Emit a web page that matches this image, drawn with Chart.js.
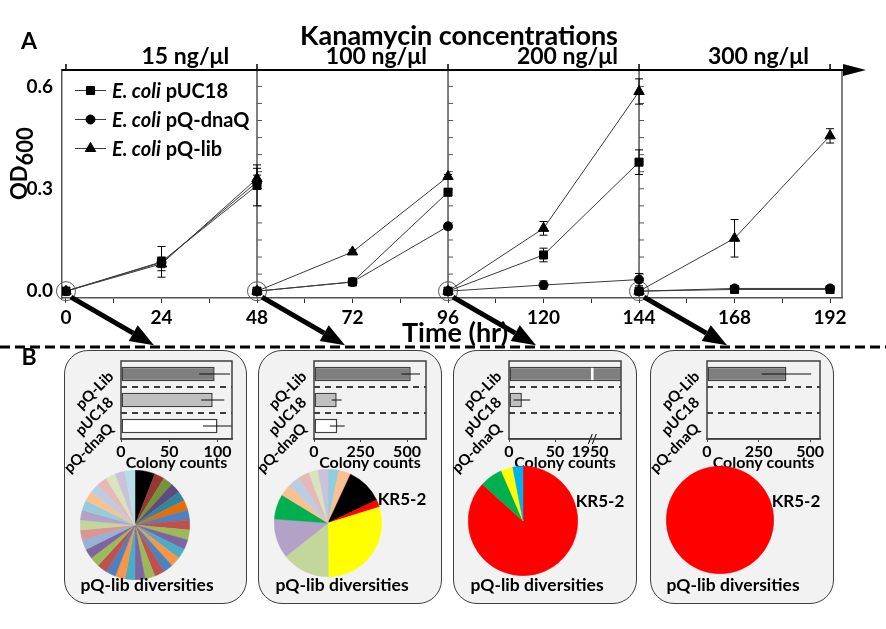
<!DOCTYPE html>
<html>
<head>
<meta charset="utf-8">
<script src="https://cdn.jsdelivr.net/npm/chart.js@4.4.0/dist/chart.umd.min.js"></script>
<style>
body { margin: 0; background: #fff; }
#wrap { position: relative; width: 886px; height: 629px; overflow: hidden; font-family: Lato, sans-serif; }
.panel { position: absolute; top: 350px; height: 254px; background: #f2f2f2; border: 1.5px solid #3f3f3f; border-radius: 24px; box-sizing: border-box; }
canvas { position: absolute; }
.lbl { position: absolute; font-weight: bold; color: #000; white-space: nowrap; line-height: 1; transform: translateX(-50%); }
</style>
</head>
<body>
<div id="wrap">
  <div class="panel" style="left:64px;width:183px"></div>
  <div class="panel" style="left:258px;width:184px"></div>
  <div class="panel" style="left:453px;width:184px"></div>
  <div class="panel" style="left:650px;width:184px"></div>
  <canvas id="growth" width="886" height="629" style="left:0;top:0"></canvas>
  <canvas id="bar0" width="183" height="125" style="left:64px;top:350px"></canvas>
  <canvas id="bar1" width="184" height="125" style="left:258px;top:350px"></canvas>
  <canvas id="bar2" width="184" height="125" style="left:453px;top:350px"></canvas>
  <canvas id="bar3" width="184" height="125" style="left:650px;top:350px"></canvas>
  <canvas id="pie0" width="110" height="110" style="left:80px;top:470px"></canvas>
  <canvas id="pie1" width="108" height="108" style="left:274px;top:469px"></canvas>
  <canvas id="pie2" width="110" height="110" style="left:468px;top:466px"></canvas>
  <canvas id="pie3" width="108" height="108" style="left:666px;top:466px"></canvas>
  <div class="lbl" style="left:402px;top:490px;font-size:17px">KR5-2</div>
  <div class="lbl" style="left:600px;top:492px;font-size:17px">KR5-2</div>
  <div class="lbl" style="left:796px;top:492px;font-size:17px">KR5-2</div>
  <div class="lbl" style="left:147px;top:576px;font-size:17.5px">pQ-lib diversities</div>
  <div class="lbl" style="left:342px;top:576px;font-size:17.5px">pQ-lib diversities</div>
  <div class="lbl" style="left:537px;top:576px;font-size:17.5px">pQ-lib diversities</div>
  <div class="lbl" style="left:733px;top:576px;font-size:17.5px">pQ-lib diversities</div>
</div>
<script>
// --- panel A : OD600 ---
const hours = [0, 24, 48, 48, 72, 96, 96, 120, 144, 144, 168, 192];
const odPUC18 = [0, 0.086, 0.31, 0, 0.027, 0.29, 0, 0.106, 0.378, 0, 0.005, 0.005];
const errPUC18 = [0, 0.045, 0.06, 0, 0.008, 0.01, 0, 0.02, 0.036, 0, 0, 0];
const odDnaQ = [0, 0.084, 0.32, 0, 0.027, 0.19, 0, 0.018, 0.034, 0, 0.008, 0.008];
const errDnaQ = [0, 0.015, 0.02, 0, 0.006, 0.008, 0, 0.012, 0.018, 0, 0.004, 0.004];
const odLib = [0, 0.08, 0.33, 0, 0.115, 0.336, 0, 0.184, 0.585, 0, 0.155, 0.455];
const errLib = [0, 0.02, 0.03, 0, 0.006, 0.006, 0, 0.02, 0.037, 0, 0.055, 0.021];
const startHours = [0, 48, 96, 144];
const concLabels = ['15 ng/μl', '100 ng/μl', '200 ng/μl', '300 ng/μl'];

// --- panel B : colony counts ---
const strains = ['pQ-Lib', 'pUC18', 'pQ-dnaQ'];
const colonies15 = [97, 95, 100];
const colonyErr15 = [16, 12, 15];
const colonies100 = [520, 122, 125];
const colonyErr100 = [50, 27, 40];
const colonies200 = [2000, 14, 0];
const colonyErr200 = [0, 9, 0];
const colonies300 = [385, 0, 0];
const colonyErr300 = [120, 0, 0];

// --- panel B : clone diversity (relative shares) ---
const diversity15 = [2, 1, 1, 1, 1, 1, 1, 1, 1, 1, 1, 1, 1, 1, 1, 1, 1, 1, 1, 1, 1, 1, 1, 1, 1, 1, 1, 1, 1, 1, 1, 1, 1];
const diversity100 = [3.3, 3.6, 11.1, 2.2, 29.7, 14.4, 11.9, 7.5, 3.6, 3.6, 3.3, 2.8, 3.0];
const diversity200 = [86.7, 6.8, 3.5, 3.0];
const diversity300 = [100];

const pieColors15 = ['#000000', '#953735', '#77933c', '#604a7b', '#31859c', '#e46c0a', '#4f81bd', '#c0504d', '#9bbb59',
  '#8064a2', '#4bacc6', '#f79646', '#4f81bd', '#c0504d', '#9bbb59', '#8064a2', '#4bacc6', '#f79646', '#4f81bd',
  '#c0504d', '#9bbb59', '#8064a2', '#95b3d7', '#d99694', '#c3d69b', '#b3a2c7', '#93cddd', '#fac090', '#b9cde5',
  '#e6b9b8', '#d7e4bd', '#ccc1da', '#b7dee8'];
const pieColors100 = ['#93cddd', '#fac090', '#000000', '#ff0000', '#ffff00', '#c3d69b', '#b3a2c7', '#00b050',
  '#fac090', '#b9cde5', '#e6b9b8', '#d7e4bd', '#ccc1da'];
const pieColors200 = ['#ff0000', '#00b050', '#ffff00', '#00b0f0'];
const pieColors300 = ['#ff0000'];

Chart.defaults.font.family = 'Lato, sans-serif';
Chart.defaults.color = '#000';

const boldFont = size => ({ family: 'Lato, sans-serif', size: size, weight: 'bold' });

function toPoints(vals, errs) {
  const pts = [];
  hours.forEach((h, i) => {
    if (i > 0 && h === hours[i - 1]) pts.push({ x: h, y: null });
    pts.push({ x: h, y: vals[i], e: errs[i] });
  });
  return pts;
}

const errorBars = {
  id: 'errorBars',
  afterDatasetsDraw(chart) {
    const ctx = chart.ctx;
    const y = chart.scales.y;
    chart.data.datasets.forEach((ds, i) => {
      if (!ds.withErrors) return;
      const meta = chart.getDatasetMeta(i);
      ds.data.forEach((p, j) => {
        if (p.y == null || !p.e) return;
        const px = meta.data[j].x;
        const top = y.getPixelForValue(p.y + p.e);
        const bot = y.getPixelForValue(p.y - p.e);
        ctx.save();
        ctx.strokeStyle = '#000';
        ctx.lineWidth = 1;
        ctx.beginPath();
        ctx.moveTo(px, top); ctx.lineTo(px, bot);
        ctx.moveTo(px - 4, top); ctx.lineTo(px + 4, top);
        ctx.moveTo(px - 4, bot); ctx.lineTo(px + 4, bot);
        ctx.stroke();
        ctx.restore();
      });
    });
  }
};

function drawArrow(ctx, x0, y0, x1, y1) {
  const ang = Math.atan2(y1 - y0, x1 - x0);
  const head = 24, half = 9;
  const bx = x1 - head * Math.cos(ang), by = y1 - head * Math.sin(ang);
  ctx.save();
  ctx.strokeStyle = '#000';
  ctx.fillStyle = '#000';
  ctx.lineWidth = 5;
  ctx.beginPath();
  ctx.moveTo(x0, y0);
  ctx.lineTo(bx, by);
  ctx.stroke();
  ctx.beginPath();
  ctx.moveTo(x1, y1);
  ctx.lineTo(bx + half * Math.sin(ang), by - half * Math.cos(ang));
  ctx.lineTo(bx - half * Math.sin(ang), by + half * Math.cos(ang));
  ctx.closePath();
  ctx.fill();
  ctx.restore();
}

// frame, separators and all the free text of the growth chart
const growthDecor = {
  id: 'growthDecor',
  beforeDatasetsDraw(chart) {
    const { ctx, chartArea: a, scales: { x, y } } = chart;
    ctx.save();
    ctx.strokeStyle = '#555';
    ctx.lineWidth = 1.5;
    [48, 96, 144].forEach(h => {
      const px = x.getPixelForValue(h);
      ctx.beginPath();
      ctx.moveTo(px, a.top); ctx.lineTo(px, a.bottom);
      ctx.stroke();
      ctx.lineWidth = 1;
      for (let v = 0; v <= 0.6001; v += 0.05) {
        const py = y.getPixelForValue(v);
        ctx.beginPath();
        ctx.moveTo(px, py); ctx.lineTo(px + 5, py);
        ctx.stroke();
      }
      ctx.lineWidth = 1.5;
    });
    ctx.beginPath();
    ctx.moveTo(a.right, a.top); ctx.lineTo(a.right, a.bottom);
    ctx.stroke();
    ctx.restore();
  },
  afterDraw(chart) {
    const { ctx, chartArea: a, scales: { x, y } } = chart;
    ctx.save();

    // top axis with arrow
    ctx.strokeStyle = '#000';
    ctx.fillStyle = '#000';
    ctx.lineWidth = 2;
    ctx.beginPath();
    ctx.moveTo(a.left, a.top); ctx.lineTo(848, a.top);
    ctx.stroke();
    ctx.beginPath();
    ctx.moveTo(866, a.top); ctx.lineTo(843, a.top - 6); ctx.lineTo(843, a.top + 6);
    ctx.closePath();
    ctx.fill();
    ctx.lineWidth = 1.5;
    [0, 48, 96, 144, 192].forEach(h => {
      const px = x.getPixelForValue(h);
      ctx.beginPath();
      ctx.moveTo(px, a.top); ctx.lineTo(px, a.top - 6);
      ctx.stroke();
    });

    // legend
    const rows = [90.5, 119.5, 148.5];
    chart.data.datasets.slice(0, 3).forEach((ds, i) => {
      const ly = rows[i];
      ctx.strokeStyle = ds.borderColor;
      ctx.lineWidth = 1;
      ctx.beginPath();
      ctx.moveTo(75, ly); ctx.lineTo(106, ly);
      ctx.stroke();
      ctx.fillStyle = '#000';
      ctx.strokeStyle = '#000';
      Chart.helpers.drawPoint(ctx, { pointStyle: ds.pointStyle, radius: ds.pointRadius, rotation: 0, borderWidth: 1 }, 90.5, ly);
      const words = ds.label.split(' ');
      const ital = words.slice(0, 2).join(' ');
      const rest = ' ' + words.slice(2).join(' ');
      ctx.textBaseline = 'middle';
      ctx.textAlign = 'left';
      ctx.font = 'italic bold 20px Lato';
      ctx.fillText(ital, 112, ly + 1);
      const w = ctx.measureText(ital).width;
      ctx.font = 'bold 20px Lato';
      ctx.fillText(rest, 112 + w, ly + 1);
    });

    // titles
    ctx.fillStyle = '#000';
    ctx.textAlign = 'center';
    ctx.textBaseline = 'alphabetic';
    ctx.font = 'bold 23px Lato';
    ctx.fillText('A', 29, 49);
    ctx.fillText('B', 29, 365);
    ctx.font = 'bold 27px Lato';
    ctx.fillText('Kanamycin concentrations', 459, 45);
    ctx.font = 'bold 23px Lato';
    startHours.forEach((h, i) => {
      ctx.fillText(concLabels[i], x.getPixelForValue(h + 30), 64);
    });
    ctx.font = 'bold 27px Lato';
    ctx.fillText('Time (hr)', 455, 342);

    // OD600
    ctx.save();
    ctx.translate(27, 200);
    ctx.rotate(-Math.PI / 2);
    ctx.textAlign = 'left';
    ctx.font = 'bold 22px Lato';
    ctx.fillText('OD', 0, 0);
    const odW = ctx.measureText('OD').width;
    ctx.fillText('600', odW, 6);
    ctx.restore();

    // arrows toward the panels below
    startHours.forEach(h => {
      const px = x.getPixelForValue(h);
      const py = y.getPixelForValue(0);
      drawArrow(ctx, px + 5, py + 6, px + 88, py + 54);
    });

    // dashed separator
    ctx.strokeStyle = '#000';
    ctx.lineWidth = 3;
    ctx.setLineDash([10, 5]);
    ctx.beginPath();
    ctx.moveTo(0, 347); ctx.lineTo(886, 347);
    ctx.stroke();
    ctx.restore();
  }
};

const seriesStyle = {
  borderColor: '#3a3a3a', borderWidth: 1, pointBackgroundColor: '#000', pointBorderColor: '#000',
  pointBorderWidth: 1, tension: 0, spanGaps: false, withErrors: true
};

new Chart(document.getElementById('growth'), {
  type: 'line',
  data: {
    datasets: [
      Object.assign({ label: 'E. coli pUC18', data: toPoints(odPUC18, errPUC18), pointStyle: 'rect', pointRadius: 5.7 }, seriesStyle),
      Object.assign({ label: 'E. coli pQ-dnaQ', data: toPoints(odDnaQ, errDnaQ), pointStyle: 'circle', pointRadius: 4.5 }, seriesStyle),
      Object.assign({ label: 'E. coli pQ-lib', data: toPoints(odLib, errLib), pointStyle: 'triangle', pointRadius: 6 }, seriesStyle),
      {
        label: 'start', data: startHours.map(h => ({ x: h, y: 0 })), showLine: false, clip: false,
        pointRadius: 9.5, pointBorderColor: '#555', pointBackgroundColor: 'rgba(0,0,0,0)', pointBorderWidth: 1
      }
    ]
  },
  options: {
    responsive: false,
    animation: false,
    layout: { padding: { top: 70, right: 44, left: 0, bottom: 0 } },
    plugins: { legend: { display: false }, tooltip: { enabled: false } },
    scales: {
      x: {
        type: 'linear', min: -1, max: 195,
        afterBuildTicks: s => { s.ticks = []; for (let h = 0; h <= 192; h += 12) s.ticks.push({ value: h }); },
        afterFit: s => { s.height = 629 - 298; },
        ticks: { font: boldFont(19), color: '#000', padding: 3, maxRotation: 0, callback: v => (v % 24 === 0 ? String(v) : '') },
        grid: { drawOnChartArea: false, drawTicks: true, tickLength: 5, color: '#333' },
        border: { color: '#555', width: 1.5 }
      },
      y: {
        type: 'linear', min: -0.02, max: 0.648,
        afterBuildTicks: s => { s.ticks = [0, 0.3, 0.6].map(v => ({ value: v })); },
        afterFit: s => { s.width = 62; },
        ticks: { font: boldFont(19), color: '#000', padding: 9, callback: v => v.toFixed(1) },
        grid: { drawOnChartArea: false, drawTicks: false },
        border: { color: '#555', width: 1.5 }
      }
    }
  },
  plugins: [growthDecor, errorBars]
});

// --- colony count bars ---
const barFills = ['#7f7f7f', '#bfbfbf', '#ffffff'];
const axisBreak = v => (v > 1000 ? 88 + (v - 1950) * 0.7 : v);

const barDecor = {
  id: 'barDecor',
  afterDatasetsDraw(chart) {
    const { ctx, chartArea: a, scales: { x, y } } = chart;
    const ds = chart.data.datasets[0];
    const meta = chart.getDatasetMeta(0);
    ctx.save();
    // dashed separators between strains
    ctx.strokeStyle = '#000';
    ctx.lineWidth = 1.5;
    ctx.setLineDash([6, 5]);
    for (let i = 1; i < strains.length; i++) {
      const py = (y.getPixelForValue(i - 1) + y.getPixelForValue(i)) / 2;
      ctx.beginPath();
      ctx.moveTo(a.left, py); ctx.lineTo(a.right, py);
      ctx.stroke();
    }
    ctx.setLineDash([]);
    // axis break
    if (ds.breakAt) {
      meta.data.forEach((el, j) => {
        if (ds.data[j] <= ds.breakAt) return;
        const bx = x.getPixelForValue(ds.breakAt);
        ctx.strokeStyle = '#fff';
        ctx.lineWidth = 2.5;
        ctx.beginPath();
        ctx.moveTo(bx, el.y - el.height / 2 + 1); ctx.lineTo(bx, el.y + el.height / 2 - 1);
        ctx.stroke();
      });
      const bx = x.getPixelForValue(ds.breakAt);
      ctx.strokeStyle = '#000';
      ctx.lineWidth = 1;
      [-2, 2].forEach(d => {
        ctx.beginPath();
        ctx.moveTo(bx + d - 2, a.bottom + 5); ctx.lineTo(bx + d + 2, a.bottom - 5);
        ctx.stroke();
      });
    }
    // error bars
    ctx.strokeStyle = '#111';
    ctx.lineWidth = 1;
    meta.data.forEach((el, j) => {
      const e = ds.errors[j];
      if (!e) return;
      const v = ds.data[j];
      const x0 = Math.max(a.left, x.getPixelForValue(v - e));
      const x1 = Math.min(a.right, x.getPixelForValue(v + e));
      ctx.beginPath();
      ctx.moveTo(x0, el.y); ctx.lineTo(x1, el.y);
      ctx.stroke();
    });
    // frame
    ctx.strokeStyle = '#404040';
    ctx.lineWidth = 1.5;
    ctx.strokeRect(a.left, a.top, a.right - a.left, a.bottom - a.top);
    ctx.restore();
  }
};

function drawColonyBars(canvasId, geom, values, errors, tickText, breakAt) {
  const canvas = document.getElementById(canvasId);
  const [pl, pt, pr, pb] = geom.plot;
  return new Chart(canvas, {
    type: 'bar',
    data: {
      labels: strains,
      datasets: [{
        data: values, errors: errors, breakAt: breakAt,
        backgroundColor: barFills, borderColor: '#404040', borderWidth: 1.5, borderSkipped: false,
        barPercentage: 0.55, categoryPercentage: 1
      }]
    },
    options: {
      indexAxis: 'y',
      responsive: false,
      animation: false,
      layout: { padding: { top: pt - 350, right: geom.left + canvas.width - pr, left: 0, bottom: 0 } },
      plugins: { legend: { display: false }, tooltip: { enabled: false } },
      scales: {
        x: {
          type: 'linear', min: 0, max: geom.max,
          afterBuildTicks: s => { s.ticks = geom.ticks.map(v => ({ value: v })); },
          afterFit: s => { s.height = 475 - pb; },
          ticks: { font: boldFont(16), color: '#000', padding: 0, maxRotation: 0, callback: tickText },
          grid: { drawOnChartArea: false, tickLength: 3, color: '#404040' },
          border: { color: '#404040', width: 1.5 },
          title: { display: true, text: 'Colony counts', font: boldFont(16), color: '#000', padding: { top: 0, bottom: 3 } }
        },
        y: {
          afterFit: s => { s.width = pl - geom.left; },
          ticks: { font: boldFont(15), color: '#000', minRotation: 45, maxRotation: 45, autoSkip: false, padding: 2 },
          grid: { display: false },
          border: { display: false }
        }
      }
    },
    plugins: [barDecor]
  });
}

const plainTick = v => String(v);
drawColonyBars('bar0', { left: 64, plot: [121, 361, 232, 439], max: 115, ticks: [0, 50, 100] }, colonies15, colonyErr15, plainTick);
drawColonyBars('bar1', { left: 258, plot: [314, 357, 426, 439], max: 602, ticks: [0, 250, 500] }, colonies100, colonyErr100, plainTick);
drawColonyBars('bar2', { left: 453, plot: [509, 356, 621, 439], max: 121.7, ticks: [0, 50, 88] },
  colonies200.map(axisBreak), colonyErr200, v => (v === 88 ? '1950' : String(v)), 90.5);
drawColonyBars('bar3', { left: 650, plot: [707, 356, 820, 439], max: 548, ticks: [0, 250, 500] }, colonies300, colonyErr300, plainTick);

// --- diversity pies ---
function drawDiversityPie(canvasId, values, colors) {
  return new Chart(document.getElementById(canvasId), {
    type: 'pie',
    data: { datasets: [{ data: values, backgroundColor: colors, borderColor: colors, borderWidth: 0.5, hoverOffset: 0 }] },
    options: {
      responsive: false,
      animation: false,
      layout: { padding: 0 },
      plugins: { legend: { display: false }, tooltip: { enabled: false } }
    }
  });
}

drawDiversityPie('pie0', diversity15, pieColors15);
drawDiversityPie('pie1', diversity100, pieColors100);
drawDiversityPie('pie2', diversity200, pieColors200);
drawDiversityPie('pie3', diversity300, pieColors300);
</script>
</body>
</html>
